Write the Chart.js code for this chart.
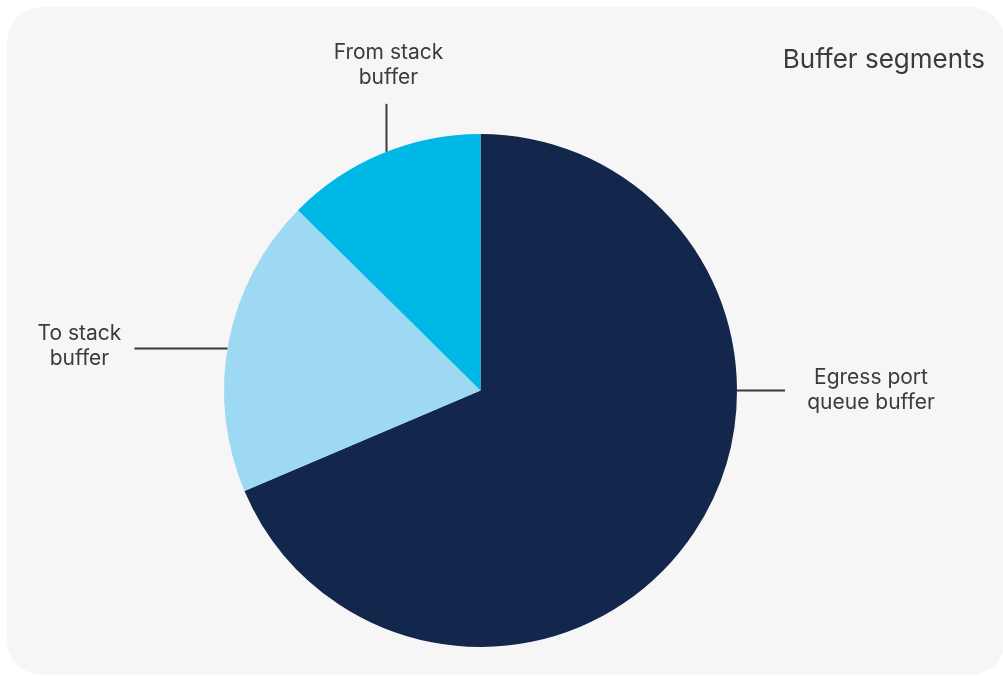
<!DOCTYPE html>
<html>
<head>
<meta charset="utf-8">
<title>Buffer segments</title>
<script src="https://cdn.jsdelivr.net/npm/chart.js@4/dist/chart.umd.min.js"></script>
<style>
  html, body { margin: 0; padding: 0; background: #ffffff; }
  #wrap { width: 1003px; height: 676px; }
</style>
</head>
<body>
<div id="wrap"><canvas id="pieChart" width="1003" height="676"></canvas></div>
<script>
// segment names (multi-line) and their share of the buffer, in %
const segments = [['Egress port', 'queue buffer'], ['To stack', 'buffer'], ['From stack', 'buffer']];
const shares = [68.6, 18.8, 12.6];
const colors = ['#13274d', '#9dd9f2', '#00b8e6'];
const chartTitle = 'Buffer segments';

// where each leader line leaves the pie (deg clockwise from 12 o'clock),
// where it ends relative to that point, and where the text sits from the line end
const leaders = [
    { angle: 90, dx: 48, dy: 0, tx: 86, ty: 0 },
    { angle: 279.4, dx: -93, dy: 0, tx: -55, ty: -2 },
    { angle: 338.5, dx: 0, dy: -48, tx: 2, ty: -39 }
];

const textColor = '#3b3b3b';
const fontFamily = 'Inter, Roboto, "Noto Sans", sans-serif';

// grey rounded card behind everything
const cardPlugin = {
    id: 'card',
    beforeDraw(chart) {
        const c = chart.ctx;
        c.save();
        c.fillStyle = '#f6f6f6';
        c.beginPath();
        c.roundRect(7, 7, 998, 668, 35);
        c.fill();
        c.restore();
    }
};

// leader lines, slice names and the title
const labelPlugin = {
    id: 'leaderLabels',
    afterDraw(chart) {
        const c = chart.ctx;
        const arcs = chart.getDatasetMeta(0).data;
        c.save();
        c.strokeStyle = textColor;
        c.fillStyle = textColor;
        c.lineWidth = 2;
        c.textAlign = 'center';
        c.textBaseline = 'middle';
        c.font = '21px ' + fontFamily;
        arcs.forEach((arc, i) => {
            const l = leaders[i];
            const a = l.angle * Math.PI / 180;
            const x0 = arc.x + arc.outerRadius * Math.sin(a);
            const y0 = arc.y - arc.outerRadius * Math.cos(a);
            const x1 = x0 + l.dx;
            const y1 = y0 + l.dy;
            c.beginPath();
            c.moveTo(x0, y0);
            c.lineTo(x1, y1);
            c.stroke();
            const lines = segments[i];
            const lh = 25;
            const top = y1 + l.ty - (lines.length - 1) * lh / 2;
            lines.forEach((t, k) => c.fillText(t, x1 + l.tx, top + k * lh));
        });
        c.textAlign = 'right';
        c.font = '26px ' + fontFamily;
        c.fillText(chartTitle, 985, 60);
        c.restore();
    }
};

const ctx = document.getElementById('pieChart').getContext('2d');
const pieChart = new Chart(ctx, {
    type: 'pie',
    data: {
        labels: segments,
        datasets: [{
            data: shares,
            backgroundColor: colors,
            borderWidth: 0
        }]
    },
    options: {
        responsive: false,
        animation: false,
        layout: {
            padding: { left: 224, right: 266, top: 134, bottom: 29 }
        },
        plugins: {
            legend: { display: false },
            tooltip: { enabled: false },
            title: { display: false }
        }
    },
    plugins: [cardPlugin, labelPlugin]
});
</script>
</body>
</html>
